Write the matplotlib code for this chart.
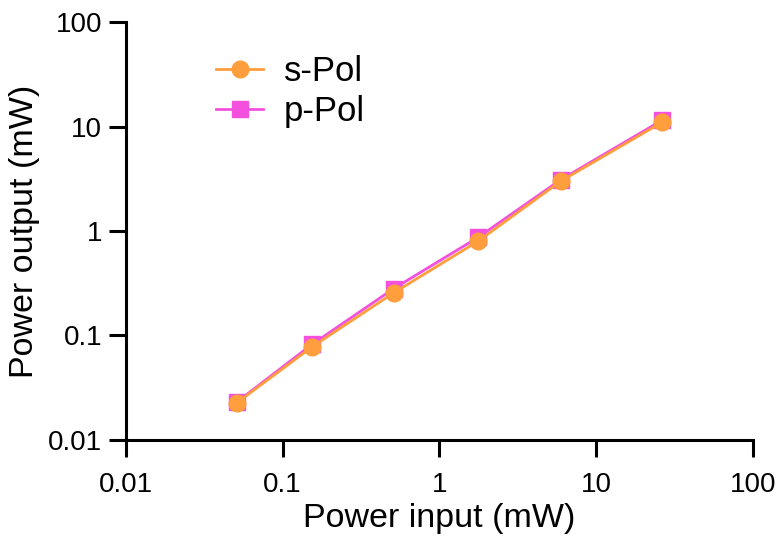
import matplotlib.pyplot as plt

plt.rcParams['font.family'] = ['Liberation Sans', 'DejaVu Sans']

power_in = [0.051, 0.154, 0.51, 1.77, 5.95, 26.4]
s_pol = [0.0226, 0.0776, 0.255, 0.80, 3.0, 11.0]
p_pol = [0.0230, 0.0820, 0.280, 0.87, 3.1, 11.5]

fig = plt.figure(figsize=(7.77, 5.39), dpi=100)
ax = fig.add_axes([0.162, 0.184, 0.807, 0.775])

ax.plot(power_in, p_pol, marker='s', color='#F250DD', markersize=11, linewidth=2, label='p-Pol')
ax.plot(power_in, s_pol, marker='o', color='#FF9E3D', markersize=12, linewidth=2, label='s-Pol')

ax.set_xscale('log')
ax.set_yscale('log')
ax.set_xlim(0.01, 100)
ax.set_ylim(0.01, 100)
ax.set_xticks([0.01, 0.1, 1, 10, 100])
ax.set_xticklabels(['0.01', '0.1', '1', '10', '100'])
ax.set_yticks([0.01, 0.1, 1, 10, 100])
ax.set_yticklabels(['0.01', '0.1', '1', '10', '100'])
ax.minorticks_off()
ax.tick_params(width=2.2, length=12, labelsize=20)
ax.tick_params(axis='x', pad=11)
ax.tick_params(axis='y', pad=5)

for side in ['top', 'right']:
    ax.spines[side].set_visible(False)
for side in ['left', 'bottom']:
    ax.spines[side].set_linewidth(2.2)

ax.set_xlabel('Power input (mW)', fontsize=24.5, labelpad=4)
ax.set_ylabel('Power output (mW)', fontsize=24.5, labelpad=6)

h, l = ax.get_legend_handles_labels()
ax.legend(h[::-1], l[::-1], loc='upper left', bbox_to_anchor=(0.094, 0.995), frameon=False,
          fontsize=25, handlelength=1.36, handletextpad=0.6, labelspacing=0.18)

plt.savefig('out.png', dpi=100)
